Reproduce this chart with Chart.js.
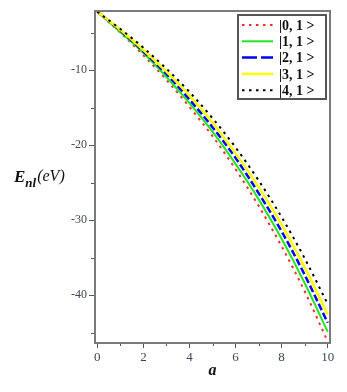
<!DOCTYPE html>
<html>
<head>
<meta charset="utf-8">
<script src="https://cdn.jsdelivr.net/npm/chart.js@4.4.1/dist/chart.umd.min.js"></script>
<style>
  html, body { margin: 0; padding: 0; background: #fff; }
  #wrap { width: 347px; height: 392px; }
</style>
</head>
<body>
<div id="wrap"><canvas id="energyChart" width="347" height="392"></canvas></div>
<script>
// === Data ===
const aValues = [0, 1, 2, 3, 4, 5, 6, 7, 8, 9, 10];
const state01 = [-2.2, -5.0, -8.0, -11.3, -14.9, -18.8, -23.2, -28.1, -33.5, -39.5, -46.2];
const state11 = [-2.2, -4.9, -7.7, -10.9, -14.4, -18.2, -22.5, -27.2, -32.5, -38.4, -44.9];
const state21 = [-2.2, -4.7, -7.5, -10.5, -13.9, -17.6, -21.7, -26.4, -31.5, -37.3, -43.7];
const state31 = [-2.2, -4.6, -7.3, -10.2, -13.4, -17.0, -21.1, -25.6, -30.6, -36.3, -42.6];
const state41 = [-2.2, -4.5, -7.0, -9.8, -12.9, -16.4, -20.3, -24.7, -29.6, -35.1, -41.2];
const seriesLabels = ['|0, 1 >', '|1, 1 >', '|2, 1 >', '|3, 1 >', '|4, 1 >'];
const xTicks = [0, 1, 2, 3, 4, 5, 6, 7, 8, 9, 10];
const yTicks = [-45, -40, -35, -30, -25, -20, -15, -10, -5];

const styles = [
  { color: '#ff2a2a', dash: [2.5, 4.5], width: 2 },
  { color: '#22e622', dash: [], width: 2 },
  { color: '#0000ff', dash: [7, 3], width: 2.5 },
  { color: '#ffff00', dash: [], width: 2.5 },
  { color: '#000000', dash: [2.5, 4.5], width: 2 },
];
const allSeries = [state01, state11, state21, state31, state41];

const datasets = allSeries.map((vals, i) => ({
  label: seriesLabels[i],
  data: vals.map((v, k) => ({ x: aValues[k], y: v })),
  borderColor: styles[i].color,
  borderDash: styles[i].dash,
  borderWidth: styles[i].width,
  pointRadius: 0,
  fill: false,
  cubicInterpolationMode: 'monotone',
  order: 5 - i
}));

const serif = '"Liberation Serif", "DejaVu Serif", serif';
const tickColor = '#3c4858';

// === Ram, små skalstreck, legend och axeltitlar ===
const decor = {
  id: 'decor',
  afterDatasetsDraw(chart) {
    const { ctx, chartArea: ca, scales } = chart;
    ctx.save();
    // ram
    ctx.strokeStyle = '#7a7a7a';
    ctx.lineWidth = 2;
    ctx.strokeRect(ca.left, ca.top, ca.right - ca.left, ca.bottom - ca.top);

    // minor ticks
    ctx.strokeStyle = '#555';
    ctx.lineWidth = 1;
    xTicks.filter(v => v % 2 !== 0).forEach(v => {
      const px = Math.round(scales.x.getPixelForValue(v)) + 0.5;
      ctx.beginPath(); ctx.moveTo(px, ca.bottom + 1); ctx.lineTo(px, ca.bottom + 3); ctx.stroke();
    });
    yTicks.filter(v => v % 10 !== 0).forEach(v => {
      const py = Math.round(scales.y.getPixelForValue(v)) + 0.5;
      ctx.beginPath(); ctx.moveTo(ca.left - 1, py); ctx.lineTo(ca.left - 4, py); ctx.stroke();
    });

    // legend
    const bx = 238, by = 15, bw = 88, bh = 84;
    ctx.fillStyle = '#fff';
    ctx.fillRect(bx, by, bw, bh);
    ctx.strokeStyle = '#555';
    ctx.lineWidth = 2;
    ctx.strokeRect(bx, by, bw, bh);
    ctx.font = 'bold 14px ' + serif;
    ctx.textBaseline = 'middle';
    chart.data.datasets.forEach((ds, i) => {
      const y = by + 10 + i * 16.3;
      ctx.save();
      ctx.strokeStyle = ds.borderColor;
      ctx.lineWidth = ds.borderWidth;
      ctx.setLineDash(i === 2 ? [15, 4] : ds.borderDash);
      ctx.beginPath(); ctx.moveTo(242, y); ctx.lineTo(273, y); ctx.stroke();
      ctx.restore();
      ctx.fillStyle = '#111';
      ctx.fillText(ds.label, 279, y + 1);
    });

    // y-axeltitel E_nl(eV)
    ctx.fillStyle = '#111';
    ctx.textBaseline = 'alphabetic';
    ctx.font = 'italic bold 17px ' + serif;
    ctx.fillText('E', 14, 182);
    let x = 14 + ctx.measureText('E').width;
    ctx.font = 'italic bold 13px ' + serif;
    ctx.fillText('nl', x, 187);
    x += ctx.measureText('nl').width + 1;
    ctx.font = 'italic 16px ' + serif;
    ctx.fillText('(eV)', x, 181);

    // x-axeltitel a
    ctx.font = 'italic bold 16px ' + serif;
    ctx.textAlign = 'center';
    ctx.fillText('a', (ca.left + ca.right) / 2, 375);
    ctx.restore();
  }
};

new Chart(document.getElementById('energyChart'), {
  type: 'line',
  data: { datasets },
  options: {
    responsive: false,
    animation: false,
    layout: { padding: { left: 0, right: 17, top: 11, bottom: 0 } },
    plugins: { legend: { display: false }, tooltip: { enabled: false } },
    scales: {
      x: {
        type: 'linear',
        min: -0.1,
        max: 10.1,
        afterBuildTicks: s => { s.ticks = xTicks.map(v => ({ value: v })); },
        afterFit: s => { s.height = 49; },
        border: { display: false },
        grid: {
          drawOnChartArea: false,
          tickLength: 5,
          color: c => (c.tick && c.tick.value % 2 === 0) ? '#555' : 'rgba(0,0,0,0)'
        },
        ticks: {
          maxRotation: 0,
          autoSkip: false,
          padding: 2,
          color: tickColor,
          font: { family: serif, size: 13 },
          callback: v => (v % 2 === 0 ? String(v) : '')
        }
      },
      y: {
        min: -46.4,
        max: -2.1,
        afterBuildTicks: s => { s.ticks = yTicks.map(v => ({ value: v })); },
        afterFit: s => { s.width = 95; },
        border: { display: false },
        grid: {
          drawOnChartArea: false,
          tickLength: 6,
          color: c => (c.tick && c.tick.value % 10 === 0) ? '#555' : 'rgba(0,0,0,0)'
        },
        ticks: {
          autoSkip: false,
          padding: 2,
          color: tickColor,
          font: { family: serif, size: 12 },
          callback: v => (v % 10 === 0 ? String(v) : '')
        }
      }
    }
  },
  plugins: [decor]
});
</script>
</body>
</html>
